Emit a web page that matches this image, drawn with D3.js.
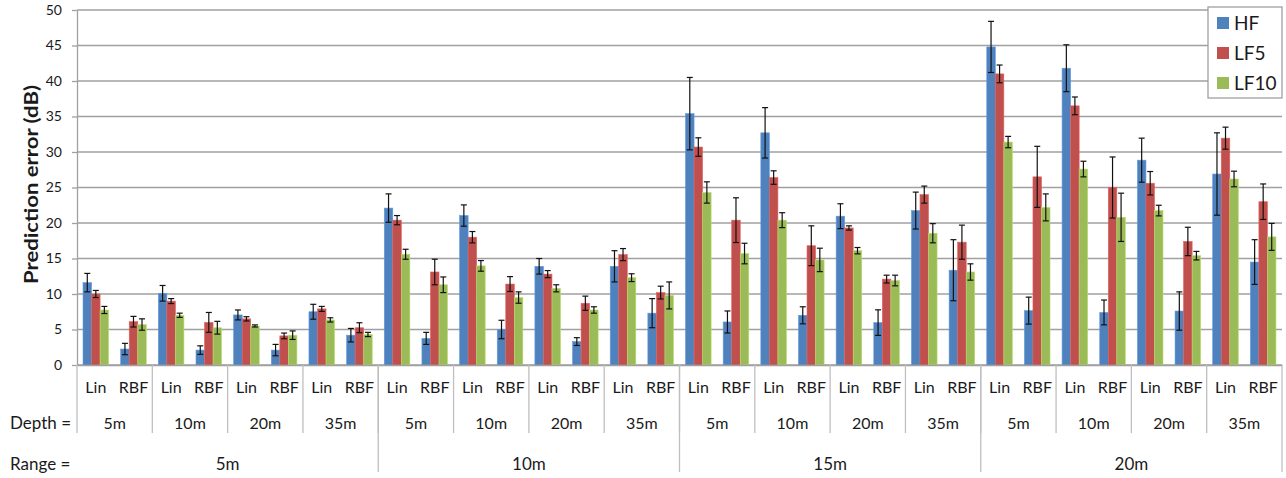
<!DOCTYPE html>
<html>
<head>
<meta charset="utf-8">
<script src="https://cdn.jsdelivr.net/npm/d3@7"></script>
<style>
  body { margin: 0; background: #fff; }
  svg text { font-family: Lato, "Open Sans", sans-serif; fill: #1a1a1a; }
</style>
</head>
<body>
<svg id="chart" width="1286" height="478"></svg>
<script>
/* data ---------------------------------------------------------*/
const ranges = ["5m", "10m", "15m", "20m"];
const depths = ["5m", "10m", "20m", "35m"];
const methods = ["Lin", "RBF"];
const seriesNames = ["HF", "LF5", "LF10"];
const seriesColors = ["#4F81BD", "#C0504D", "#9BBB59"];
const yTicks = [0, 5, 10, 15, 20, 25, 30, 35, 40, 45, 50];

// one value per category, ordered range > depth > method
const hf = [
  11.6, 2.25, 10.1, 2.1, 7.05, 2.1, 7.5, 4.2,
  22.1, 3.75, 21.05, 5.0, 13.9, 3.3, 13.9, 7.3,
  35.4, 6.06, 32.7, 7.0, 20.96, 5.97, 21.75, 13.35,
  44.8, 7.66, 41.8, 7.4, 28.85, 7.6, 26.9, 14.5
];
const lf5 = [
  10.0, 6.1, 9.0, 6.0, 6.5, 4.1, 7.9, 5.25,
  20.4, 13.1, 18.0, 11.4, 12.8, 8.7, 15.55, 10.2,
  30.7, 20.4, 26.4, 16.8, 19.3, 12.1, 24.0, 17.3,
  41.0, 26.5, 36.5, 25.0, 25.6, 17.4, 31.95, 23.0
];
const lf10 = [
  7.75, 5.7, 7.0, 5.25, 5.5, 4.2, 6.35, 4.3,
  15.6, 11.3, 13.96, 9.5, 10.8, 7.75, 12.3, 9.8,
  24.3, 15.7, 20.4, 14.8, 16.1, 11.9, 18.56, 13.1,
  31.4, 22.2, 27.6, 20.8, 21.75, 15.4, 26.2, 18.05
];
const hfErr = [
  1.3, 0.8, 1.1, 0.6, 0.7, 0.8, 1.05, 0.95,
  2.0, 0.85, 1.5, 1.3, 1.1, 0.55, 2.2, 2.05,
  5.1, 1.55, 3.55, 1.2, 1.75, 1.8, 2.6, 4.3,
  3.6, 1.9, 3.3, 1.75, 3.1, 2.7, 5.8, 3.15
];
const lf5Err = [
  0.5, 0.75, 0.35, 1.4, 0.3, 0.4, 0.35, 0.7,
  0.65, 1.8, 0.8, 1.05, 0.5, 1.0, 0.85, 0.9,
  1.3, 3.15, 0.95, 2.8, 0.3, 0.55, 1.2, 2.4,
  1.25, 4.3, 1.25, 4.3, 1.65, 2.0, 1.55, 2.5
];
const lf10Err = [
  0.5, 0.8, 0.3, 0.9, 0.15, 0.6, 0.3, 0.3,
  0.7, 1.1, 0.75, 0.8, 0.5, 0.45, 0.55, 1.9,
  1.5, 1.45, 1.05, 1.65, 0.45, 0.75, 1.35, 1.15,
  0.8, 1.9, 1.1, 3.4, 0.75, 0.6, 1.1, 1.9
];

/* layout ---------------------------------------------------------*/
const svg = d3.select("#chart");
const plot = {left: 77, right: 1282, top: 10, bottom: 365};
const gridColor = "#a0a0a0";

// build category keys
const cats = [];
ranges.forEach((r, ri) => depths.forEach((d, di) => methods.forEach((m, mi) => {
  cats.push({key: ri + "-" + di + "-" + mi, range: r, depth: d, method: m});
})));

const x = d3.scaleBand().domain(cats.map(c => c.key)).range([plot.left, plot.right]);
const xSeries = d3.scaleBand().domain(seriesNames)
  .range([x.bandwidth() * 0.16, x.bandwidth() * 0.84]);
const y = d3.scaleLinear().domain([0, 50]).range([plot.bottom, plot.top]);

/* gridlines ------------------------------------------------------*/
svg.append("g").selectAll("line").data(yTicks).join("line")
  .attr("x1", plot.left).attr("x2", plot.right)
  .attr("y1", d => y(d)).attr("y2", d => y(d))
  .attr("stroke", gridColor).attr("stroke-width", 1.3);

// y axis with d3 axis
const yAxis = svg.append("g")
  .attr("transform", "translate(" + plot.left + ",0)")
  .call(d3.axisLeft(y).tickValues(yTicks).tickSize(5).tickSizeOuter(0).tickPadding(10));
yAxis.select(".domain").attr("stroke", gridColor).attr("stroke-width", 1.3);
yAxis.selectAll(".tick line").attr("stroke", gridColor).attr("stroke-width", 1.3);
yAxis.selectAll("text").style("font-size", "14px").attr("fill", "#1a1a1a")
  .style("font-family", "Lato, 'Open Sans', sans-serif");

svg.append("text")
  .attr("transform", "translate(38,184.5) rotate(-90)")
  .attr("text-anchor", "middle")
  .attr("textLength", 199).attr("lengthAdjust", "spacingAndGlyphs")
  .style("font-size", "19px").style("font-weight", "bold")
  .text("Prediction error (dB)");

/* bars -----------------------------------------------------------*/
const values = [hf, lf5, lf10];
const errs = [hfErr, lf5Err, lf10Err];
const barData = [];
cats.forEach((c, i) => seriesNames.forEach((s, si) => {
  barData.push({cat: c.key, series: s, color: seriesColors[si], v: values[si][i], e: errs[si][i]});
}));

svg.append("g").selectAll("rect").data(barData).join("rect")
  .attr("x", d => x(d.cat) + xSeries(d.series))
  .attr("width", xSeries.bandwidth())
  .attr("y", d => y(d.v))
  .attr("height", d => y(0) - y(d.v))
  .attr("fill", d => d.color)
  .attr("stroke", d => d3.color(d.color).brighter(0.5))
  .attr("stroke-width", 0.6);

/* error bars -----------------------------------------------------*/
const eb = svg.append("g").attr("stroke", "#111").attr("stroke-width", 1.2);
const cx = d => x(d.cat) + xSeries(d.series) + xSeries.bandwidth() / 2;
eb.selectAll("line.v").data(barData).join("line").attr("class", "v")
  .attr("x1", cx).attr("x2", cx)
  .attr("y1", d => y(d.v + d.e)).attr("y2", d => y(d.v - d.e));
eb.selectAll("line.t").data(barData).join("line").attr("class", "t")
  .attr("x1", d => cx(d) - 3).attr("x2", d => cx(d) + 3)
  .attr("y1", d => y(d.v + d.e)).attr("y2", d => y(d.v + d.e));
eb.selectAll("line.b").data(barData).join("line").attr("class", "b")
  .attr("x1", d => cx(d) - 3).attr("x2", d => cx(d) + 3)
  .attr("y1", d => y(d.v - d.e)).attr("y2", d => y(d.v - d.e));

/* x-axis multi level labels -------------------------------------*/
const xAxis = svg.append("g").attr("transform", "translate(0," + plot.bottom + ")")
  .call(d3.axisBottom(x).tickSize(0).tickPadding(17)
    .tickFormat(k => cats.find(c => c.key === k).method));
xAxis.select(".domain").attr("stroke", gridColor).attr("stroke-width", 1.3);
xAxis.selectAll("text").style("font-size", "16px").attr("fill", "#1a1a1a")
  .style("font-family", "Lato, 'Open Sans', sans-serif");

const sepColor = "#bfbfbf";
const depthW = x.step() * methods.length;
const rangeW = depthW * depths.length;

// depth separators and labels
const depthGroups = [];
ranges.forEach((r, ri) => depths.forEach((d, di) => depthGroups.push({
  x0: x(ri + "-" + di + "-0"), label: d
})));
svg.append("g").selectAll("line").data(depthGroups).join("line")
  .attr("x1", d => d.x0).attr("x2", d => d.x0)
  .attr("y1", plot.bottom).attr("y2", 433)
  .attr("stroke", sepColor).attr("stroke-width", 1.3);
svg.append("g").selectAll("text").data(depthGroups).join("text")
  .attr("x", d => d.x0 + depthW / 2).attr("y", 429)
  .attr("text-anchor", "middle").style("font-size", "16px")
  .text(d => d.label);

// range separators and labels
const rangeGroups = ranges.map((r, ri) => ({x0: x(ri + "-0-0"), label: r}));
svg.append("g").selectAll("line").data(rangeGroups.map(d => d.x0).concat([plot.right]))
  .join("line")
  .attr("x1", d => d).attr("x2", d => d)
  .attr("y1", plot.bottom).attr("y2", 472)
  .attr("stroke", sepColor).attr("stroke-width", 1.3)
  .attr("display", (d, i) => i === 0 ? "none" : null);
svg.append("g").selectAll("text").data(rangeGroups).join("text")
  .attr("x", d => d.x0 + rangeW / 2).attr("y", 470)
  .attr("text-anchor", "middle").style("font-size", "17px")
  .text(d => d.label);

svg.append("text").attr("x", 10).attr("y", 429).style("font-size", "17px").text("Depth =");
svg.append("text").attr("x", 10).attr("y", 470).style("font-size", "17px").text("Range =");

/* legend ---------------------------------------------------------*/
const lg = svg.append("g").attr("transform", "translate(1208,7)");
lg.append("rect").attr("width", 74).attr("height", 91)
  .attr("fill", "#fff").attr("stroke", gridColor).attr("stroke-width", 1.3);
const li = lg.selectAll("g").data(seriesNames).join("g")
  .attr("transform", (d, i) => "translate(9," + (16 + i * 30) + ")");
li.append("rect").attr("x", 0).attr("y", -6).attr("width", 12).attr("height", 12)
  .attr("fill", (d, i) => seriesColors[i]);
li.append("text").attr("x", 17).attr("y", 7).style("font-size", "19px").text(d => d);
</script>
</body>
</html>
